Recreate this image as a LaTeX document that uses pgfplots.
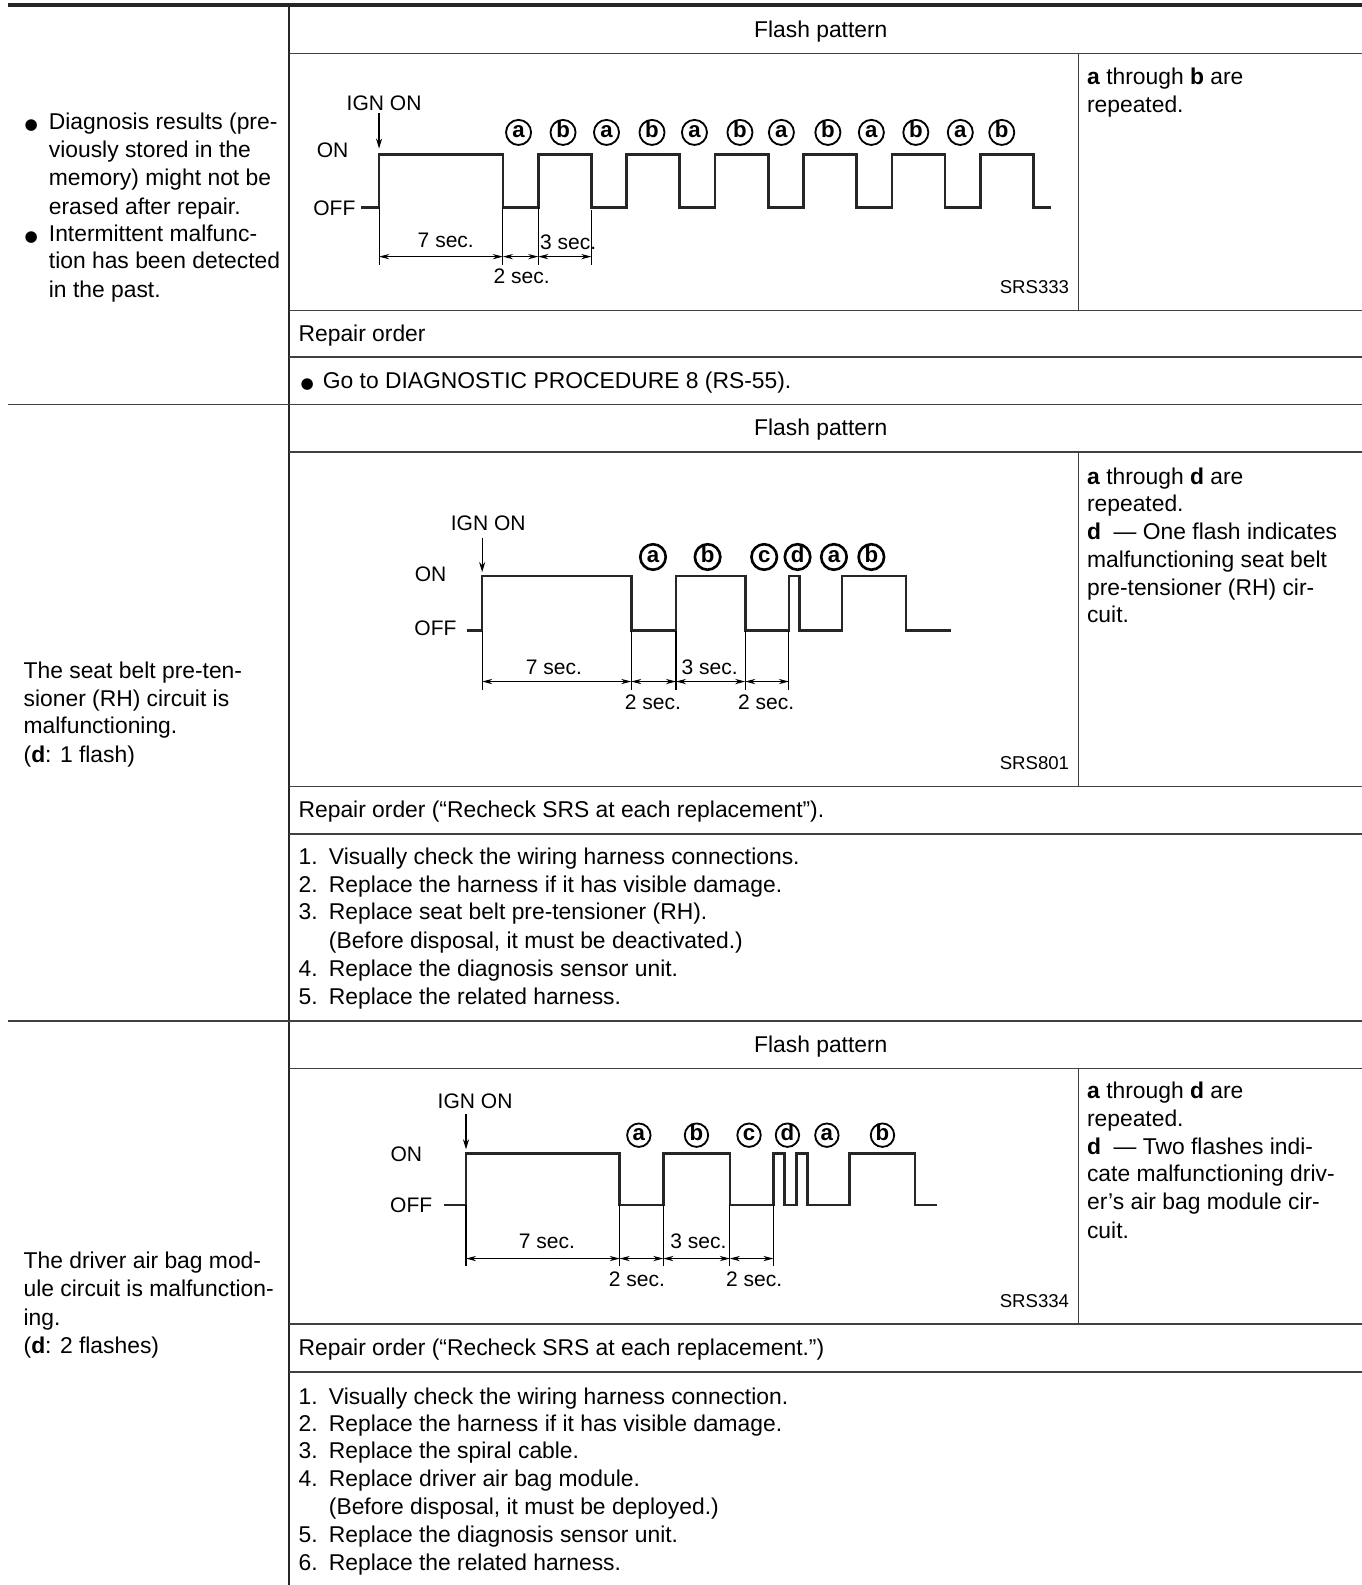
\documentclass[border=0pt]{standalone}
\usepackage{pgfplots}
\pgfplotsset{compat=1.18}
\usepackage{fontspec}
\setmainfont{Liberation Sans}
\newfontfamily\dejavu{DejaVu Sans}
\usetikzlibrary{arrows.meta}
\newcommand\mainf{\fontsize{11.3}{14}\selectfont}
\newcommand\diagf{\fontsize{10.4}{12}\selectfont}
\newcommand\srsf{\fontsize{9.2}{11}\selectfont}
\newcommand\T[3]{\node[anchor=base west,inner sep=0pt,font=\mainf] at (#1,#2) {#3};}
\newcommand\B[2]{\node[anchor=base west,inner sep=0pt,font=\dejavu\fontsize{7.5}{8}\selectfont] at (#1,#2) {●};}
\newcommand\D[3]{\node[anchor=base,inner sep=0pt,font=\diagf] at (#1,#2) {#3};}
\tikzset{circ/.style={circle,draw,line width=0.9pt,inner sep=0pt,minimum size=12.4pt,text height=0.52em,text depth=0pt,font=\bfseries\fontsize{11}{11}\selectfont},
 dim/.style={line width=0.5pt,{Stealth[length=5pt,width=2.6pt]}-{Stealth[length=5pt,width=2.6pt]}},
 ext/.style={line width=0.5pt},
 wave/.style={const plot,line width=1.3pt,black!85,line join=miter,line cap=butt}}
\begin{document}
\begin{tikzpicture}
\begin{scope}[x=0.5pt,y=-0.5pt]
% ---------- table rules
\draw[line width=1.6pt,black!85] (8,5) -- (1347,5);
\draw[line width=0.7pt,black!85] (286,5) -- (286,1568);
\begin{scope}[line width=0.8pt,black!75]
\draw (286,53) -- (1347,53);
\draw (1067,53) -- (1067,307);
\draw (286,307) -- (1347,307);
\draw (286,353) -- (1347,353);
\draw (8,400) -- (1347,400);
\draw (286,447) -- (1347,447);
\draw (1067,447) -- (1067,778);
\draw (286,778) -- (1347,778);
\draw (286,825) -- (1347,825);
\draw (8,1010) -- (1347,1010);
\draw (286,1057) -- (1347,1057);
\draw (1067,1057) -- (1067,1310);
\draw (286,1310) -- (1347,1310);
\draw (286,1357) -- (1347,1357);
\end{scope}
% ---------- left column
\B{24}{128}\T{48}{128}{Diagnosis results (pre-}
\T{48}{156}{viously stored in the}
\T{48}{184}{memory) might not be}
\T{48}{212}{erased after repair.}
\B{24}{239}\T{48}{239}{Intermittent malfunc-}
\T{48}{266}{tion has been detected}
\T{48}{294}{in the past.}
\T{23}{671}{The seat belt pre-ten-}
\T{23}{699}{sioner (RH) circuit is}
\T{23}{726}{malfunctioning.}
\T{23}{754}{(\textbf{d}: 1 flash)}
\T{23}{1255}{The driver air bag mod-}
\T{23}{1283}{ule circuit is malfunction-}
\T{23}{1311}{ing.}
\T{23}{1339}{(\textbf{d}: 2 flashes)}
% ---------- middle column headers
\node[anchor=base,inner sep=0pt,font=\mainf] at (812,37) {Flash pattern};
\node[anchor=base,inner sep=0pt,font=\mainf] at (812,431) {Flash pattern};
\node[anchor=base,inner sep=0pt,font=\mainf] at (812,1041) {Flash pattern};
\T{295}{338}{Repair order}
\B{297}{384}\T{319}{384}{Go to DIAGNOSTIC PROCEDURE 8 (RS-55).}
\T{295}{809}{Repair order (“Recheck SRS at each replacement”).}
\T{295}{855}{1.}\T{325}{855}{Visually check the wiring harness connections.}
\T{295}{883}{2.}\T{325}{883}{Replace the harness if it has visible damage.}
\T{295}{910}{3.}\T{325}{910}{Replace seat belt pre-tensioner (RH).}
\T{325}{938}{(Before disposal, it must be deactivated.)}
\T{295}{966}{4.}\T{325}{966}{Replace the diagnosis sensor unit.}
\T{295}{994}{5.}\T{325}{994}{Replace the related harness.}
\T{295}{1341}{Repair order (“Recheck SRS at each replacement.”)}
\T{295}{1389}{1.}\T{325}{1389}{Visually check the wiring harness connection.}
\T{295}{1416}{2.}\T{325}{1416}{Replace the harness if it has visible damage.}
\T{295}{1443}{3.}\T{325}{1443}{Replace the spiral cable.}
\T{295}{1471}{4.}\T{325}{1471}{Replace driver air bag module.}
\T{325}{1498}{(Before disposal, it must be deployed.)}
\T{295}{1526}{5.}\T{325}{1526}{Replace the diagnosis sensor unit.}
\T{295}{1554}{6.}\T{325}{1554}{Replace the related harness.}
% ---------- right column
\T{1075}{84}{\textbf{a} through \textbf{b} are}
\T{1075}{111}{repeated.}
\T{1075}{479}{\textbf{a} through \textbf{d} are}
\T{1075}{506}{repeated.}
\T{1075}{534}{\textbf{d}\ \ — One flash indicates}
\T{1075}{561}{malfunctioning seat belt}
\T{1075}{589}{pre-tensioner (RH) cir-}
\T{1075}{616}{cuit.}
\T{1075}{1087}{\textbf{a} through \textbf{d} are}
\T{1075}{1114}{repeated.}
\T{1075}{1142}{\textbf{d}\ \ — Two flashes indi-}
\T{1075}{1169}{cate malfunctioning driv-}
\T{1075}{1197}{er’s air bag module cir-}
\T{1075}{1225}{cuit.}
% ---------- SRS codes
\node[anchor=base east,inner sep=0pt,font=\srsf] at (1058,290) {SRS333};
\node[anchor=base east,inner sep=0pt,font=\srsf] at (1058,761) {SRS801};
\node[anchor=base east,inner sep=0pt,font=\srsf] at (1058,1293) {SRS334};
% ---------- diagram 1 texts
\D{380}{109}{IGN\ ON}
\node[anchor=base west,inner sep=0pt,font=\diagf] at (313,156) {ON};
\node[anchor=base east,inner sep=0pt,font=\diagf] at (352,213) {OFF};
\draw[line width=0.6pt,-{Stealth[length=5pt,width=3pt]}] (375,112) -- (375,147);
\D{441}{245}{7\ sec.}\D{562}{247}{3\ sec.}\D{516}{280}{2\ sec.}
\foreach \x/\l in {513/a,557/b,600/a,645/b,687/a,732/b,773/a,819/b,862/a,906/b,950/a,991/b}
  \node[circ] at (\x,131) {\l};
% ---------- diagram 2 texts
\D{483}{525}{IGN ON}
\node[anchor=base west,inner sep=0pt,font=\diagf] at (410,575) {ON};
\node[anchor=base east,inner sep=0pt,font=\diagf] at (452,629) {OFF};
\draw[line width=0.6pt,-{Stealth[length=5pt,width=3pt]}] (477,532) -- (477,566);
\D{548}{667}{7 sec.}\D{702}{667}{3 sec.}\D{646}{702}{2 sec.}\D{758}{702}{2 sec.}
\foreach \x/\l in {646/a,700/b,756/c,789/d,825/a,862/b}
  \node[circ,line width=1.3pt,minimum size=12.6pt] at (\x,551) {\l};
% ---------- diagram 3 texts
\D{470}{1097}{IGN\ ON}
\node[anchor=base west,inner sep=0pt,font=\diagf] at (386,1149) {ON};
\node[anchor=base east,inner sep=0pt,font=\diagf] at (428,1199) {OFF};
\draw[line width=0.6pt,-{Stealth[length=5pt,width=3pt]}] (461,1102) -- (461,1137);
\D{541}{1235}{7\ sec.}\D{691}{1235}{3\ sec.}\D{630}{1273}{2\ sec.}\D{746}{1273}{2\ sec.}
\foreach \x/\l in {632/a,689/b,741/c,779/d,818/a,873/b}
  \node[circ,minimum size=11.6pt] at (\x,1123) {\l};
\end{scope}
% ---------- waveform 1
\begin{axis}[at={(187.5pt,-102.5pt)},anchor=origin,x=8.75pt,y=26pt,
  xmin=-1,xmax=38,ymin=0,ymax=1,axis lines=none,clip=false,enlargelimits=false]
\addplot[wave] coordinates {(-1,0)(0,1)(7,0)(9,1)(12,0)(14,1)(17,0)(19,1)(22,0)(24,1)(27,0)(29,1)(32,0)(34,1)(37,0)(38,0)};
\draw[ext] (axis cs:0,0) -- (axis cs:0,-1.1);
\draw[ext] (axis cs:7,0) -- (axis cs:7,-1.1);
\draw[ext] (axis cs:9,0) -- (axis cs:9,-1.1);
\draw[ext] (axis cs:12,-0.06) -- (axis cs:12,-1.1);
\draw[dim] (axis cs:0,-0.94) -- (axis cs:7,-0.94);
\draw[dim] (axis cs:7,-0.94) -- (axis cs:9,-0.94);
\draw[dim] (axis cs:9,-0.94) -- (axis cs:12,-0.94);
\end{axis}
% ---------- waveform 2
\begin{axis}[at={(238.5pt,-312pt)},anchor=origin,x=10.535pt,y=27pt,
  xmin=-0.7,xmax=22,ymin=0,ymax=1,axis lines=none,clip=false,enlargelimits=false]
\addplot[wave] coordinates {(-0.7,0)(0,1)(7,0)(9.1,1)(12.35,0)(14.4,1)(14.9,0)(16.9,1)(19.9,0)(22,0)};
\foreach \t in {0,7,9.1,12.35,14.4}{\edef\temp{\noexpand\draw[ext] (axis cs:\t,0) -- (axis cs:\t,-1.09);}\temp}
\draw[dim] (axis cs:0,-0.93) -- (axis cs:7,-0.93);
\draw[dim] (axis cs:7,-0.93) -- (axis cs:9.1,-0.93);
\draw[dim] (axis cs:9.1,-0.93) -- (axis cs:12.35,-0.93);
\draw[dim] (axis cs:12.35,-0.93) -- (axis cs:14.4,-0.93);
\end{axis}
% ---------- waveform 3
\begin{axis}[at={(230.5pt,-596pt)},anchor=origin,x=10.785pt,y=25.5pt,
  xmin=-1,xmax=21.6,ymin=0,ymax=1,axis lines=none,clip=false,enlargelimits=false]
\addplot[wave] coordinates {(-1,0)(0,1)(7.05,0)(9.05,1)(12.1,0)(14.1,1)(14.6,0)(15.15,1)(15.65,0)(17.6,1)(20.6,0)(21.6,0)};
\foreach \t in {0,7.05,9.05,12.1,14.1}{\edef\temp{\noexpand\draw[ext] (axis cs:\t,0) -- (axis cs:\t,-1.18);}\temp}
\draw[dim] (axis cs:0,-1.04) -- (axis cs:7.05,-1.04);
\draw[dim] (axis cs:7.05,-1.04) -- (axis cs:9.05,-1.04);
\draw[dim] (axis cs:9.05,-1.04) -- (axis cs:12.1,-1.04);
\draw[dim] (axis cs:12.1,-1.04) -- (axis cs:14.1,-1.04);
\end{axis}
\pgfresetboundingbox
\path[use as bounding box] (0,0) rectangle (673.5pt,-784pt);
\end{tikzpicture}
\end{document}
